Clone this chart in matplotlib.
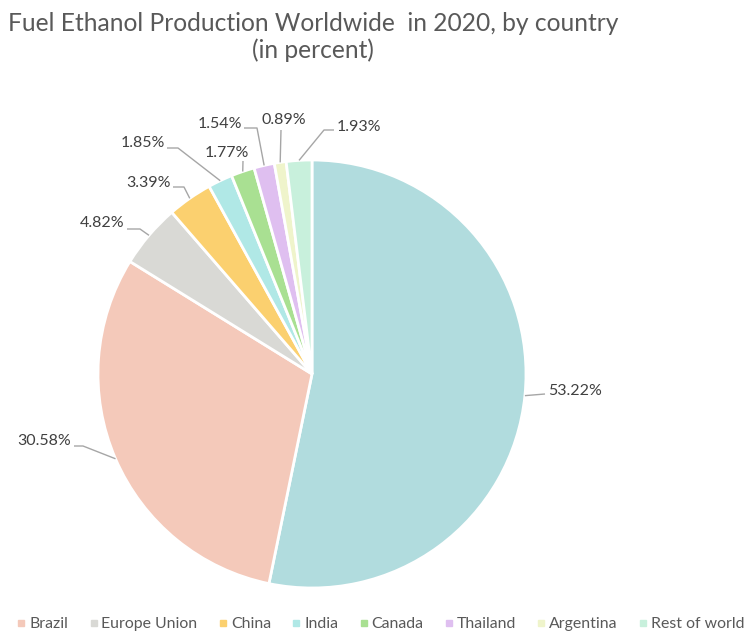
import numpy as np
import matplotlib.pyplot as plt
from matplotlib.lines import Line2D

# ── Data ─────────────────────────────────────────────────────────────────────
SLICE_VALUES = [53.22, 30.58, 4.82, 3.39, 1.85, 1.77, 1.54, 0.89, 1.93]
SLICE_COLORS = ["#b1dcde", "#f4c9ba", "#d9d9d5", "#fbd06f", "#b0e8e6",
                "#a9e092", "#dfbff0", "#eff4cb", "#c8f0dc"]
LEGEND_NAMES = ["Brazil", "Europe Union", "China", "India", "Canada",
                "Thailand", "Argentina", "Rest of world"]
LEGEND_COLORS = SLICE_COLORS[1:]
TITLE = "Fuel Ethanol Production Worldwide  in 2020, by country\n(in percent)"

# ── Layout (pixel space, y measured from top) ────────────────────────────────
W, H = 750, 633
CX, CY, R = 312, 374, 214
# text anchor (x, y, ha) and leader-line elbow / attach points per slice
LABEL_TEXT = [(548, 391, "left"), (71, 441, "right"), (124, 223, "right"),
              (171, 183, "right"), (165, 143, "right"), (249, 153, "right"),
              (242, 124, "right"), (284, 120, "center"), (337, 127, "left")]
LABEL_ATTACH = [(545, 394), (74, 446), (127, 229), (173, 187), (167, 148),
                (243, 161), (244, 128), (281, 130), (334, 130)]
LABEL_ELBOW = [(545, 394), (83, 446), (140, 229), (184, 187), (178, 148),
               (243, 161), (257, 128), (281, 130), (324, 130)]
TEXT_COL = "#404040"
LINE_COL = "#a6a6a6"

plt.rcParams["font.family"] = ["Lato", "DejaVu Sans"]

fig = plt.figure(figsize=(W / 100, H / 100), dpi=100)
ax = fig.add_axes([0, 0, 1, 1])

wedges, _ = ax.pie(SLICE_VALUES, colors=SLICE_COLORS, startangle=90,
                   counterclock=False, center=(CX, H - CY), radius=R,
                   wedgeprops={"edgecolor": "white", "linewidth": 2})
ax.set_xlim(0, W)
ax.set_ylim(0, H)
ax.set_aspect("equal")
ax.axis("off")

for w, v, (tx, ty, ha), (axx, ayy), (bx, by) in zip(
        wedges, SLICE_VALUES, LABEL_TEXT, LABEL_ATTACH, LABEL_ELBOW):
    ang = np.deg2rad((w.theta1 + w.theta2) / 2)
    ex = CX + R * np.cos(ang)
    ey = (H - CY) + R * np.sin(ang)
    ax.plot([ex, bx, axx], [ey, H - by, H - ayy], color=LINE_COL, lw=1,
            solid_capstyle="butt")
    ax.text(tx, H - ty, f"{v:.2f}%", ha=ha, va="center", fontsize=11.5,
            color=TEXT_COL)

fig.text(313 / W, 1 - 37 / H, TITLE, ha="center", va="center",
         fontsize=17.7, color="#595959", linespacing=1.2)

handles = [Line2D([], [], marker="s", linestyle="none", markersize=5,
                  markerfacecolor=c, markeredgecolor=c) for c in LEGEND_COLORS]
fig.legend(handles, LEGEND_NAMES, loc="center", ncol=8,
           bbox_to_anchor=(381 / W, 1 - 624 / H), frameon=False,
           fontsize=11.4, labelcolor="#595959", handletextpad=0.25,
           columnspacing=1.35, handlelength=0.5, borderpad=0, borderaxespad=0)

fig.savefig("out.png", dpi=100)
